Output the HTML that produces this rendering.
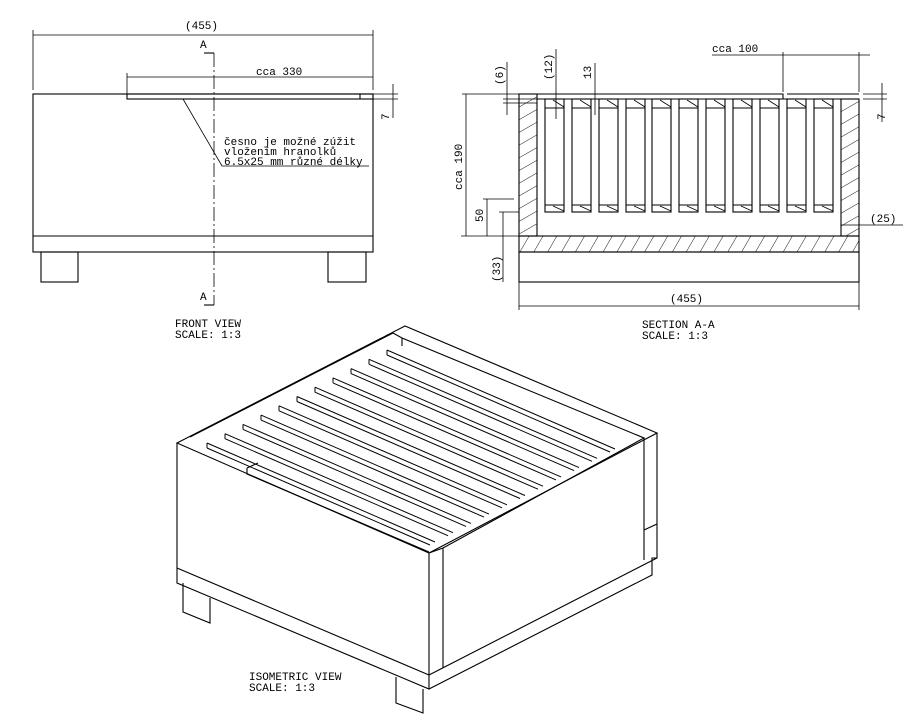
<!DOCTYPE html>
<html><head><style>
body{margin:0;background:#fff}
svg{display:block}
text{font-family:"Liberation Mono",monospace;font-size:11px;fill:#000}
</style></head><body>
<svg width="916" height="718" viewBox="0 0 916 718" xmlns="http://www.w3.org/2000/svg">
<defs>
<pattern id="h" width="11" height="11" patternUnits="userSpaceOnUse" patternTransform="rotate(60)">
<line x1="0" y1="0" x2="0" y2="11" stroke="#000" stroke-width="0.9"/>
</pattern>
<pattern id="h2" width="12" height="12" patternUnits="userSpaceOnUse" patternTransform="rotate(30)">
<line x1="0" y1="0" x2="0" y2="12" stroke="#000" stroke-width="0.9"/>
</pattern>
</defs>
<g stroke="#000" stroke-width="1.1" fill="none">
<!-- FRONT VIEW -->
<rect x="33" y="94" width="340" height="158"/>
<line x1="33" y1="236" x2="373" y2="236"/>
<rect x="41" y="252" width="37" height="30"/>
<rect x="328" y="252" width="38" height="30"/>
<rect x="127" y="94" width="246" height="5"/>
<line x1="360" y1="94" x2="360" y2="99"/>
<line x1="33" y1="35" x2="373" y2="35" stroke-width="0.8"/>
<line x1="33" y1="30" x2="33" y2="90" stroke-width="0.8"/>
<line x1="373" y1="30" x2="373" y2="90" stroke-width="0.8"/>
<line x1="127" y1="77" x2="373" y2="77" stroke-width="0.8"/>
<line x1="127" y1="73" x2="127" y2="99" stroke-width="0.8"/>
<line x1="214" y1="53" x2="214" y2="305" stroke-dasharray="14,3,2,3" stroke-width="0.8"/>
<line x1="204" y1="53" x2="214" y2="53"/><line x1="204" y1="305" x2="214" y2="305"/>
<line x1="373" y1="94" x2="398" y2="94" stroke-width="0.8"/>
<line x1="373" y1="99" x2="398" y2="99" stroke-width="0.8"/>
<line x1="393" y1="84" x2="393" y2="118" stroke-width="0.8"/>
<polyline points="183,99 222,166 369,166" stroke-width="0.8"/>
<!-- SECTION -->
<rect x="519" y="94" width="18" height="142" fill="url(#h)"/>
<rect x="841" y="99" width="18" height="137" fill="url(#h)"/>
<line x1="537" y1="99" x2="841" y2="99"/>
<polyline points="519,94 783,94 783,99"/>
<line x1="787" y1="94" x2="859" y2="94"/>
<line x1="537" y1="236" x2="841" y2="236"/>
<rect x="519" y="236" width="340" height="16" fill="url(#h2)"/>
<rect x="519" y="252" width="340" height="30"/>
<line x1="519" y1="306" x2="859" y2="306" stroke-width="0.8"/>
<line x1="519" y1="282" x2="519" y2="310" stroke-width="0.8"/>
<line x1="859" y1="282" x2="859" y2="310" stroke-width="0.8"/>
<line x1="466" y1="94" x2="466" y2="236" stroke-width="0.8"/>
<line x1="462" y1="94" x2="519" y2="94" stroke-width="0.8"/>
<line x1="461" y1="236" x2="519" y2="236" stroke-width="0.8"/>
<line x1="487" y1="199" x2="487" y2="236" stroke-width="0.8"/>
<line x1="483" y1="199" x2="514" y2="199" stroke-width="0.8"/>
<line x1="503" y1="212" x2="503" y2="282" stroke-width="0.8"/>
<line x1="499" y1="212" x2="519" y2="212" stroke-width="0.8"/>
<line x1="507" y1="62" x2="507" y2="115" stroke-width="0.8"/>
<line x1="503" y1="99" x2="537" y2="99" stroke-width="0.8"/>
<line x1="503" y1="103" x2="537" y2="103" stroke-width="0.8"/>
<line x1="556" y1="49" x2="556" y2="119" stroke-width="0.8"/>
<line x1="595" y1="63" x2="595" y2="115" stroke-width="0.8"/>
<line x1="712" y1="55" x2="870" y2="55" stroke-width="0.8"/>
<line x1="783" y1="52" x2="783" y2="92" stroke-width="0.8"/>
<line x1="859" y1="52" x2="859" y2="92" stroke-width="0.8"/>
<line x1="863" y1="94" x2="887" y2="94" stroke-width="0.8"/>
<line x1="863" y1="99" x2="887" y2="99" stroke-width="0.8"/>
<line x1="882" y1="83" x2="882" y2="122" stroke-width="0.8"/>
<line x1="841" y1="225" x2="903" y2="225" stroke-width="0.8"/>
<g id="fr">
<rect x="545" y="99" width="19" height="113"/>
<line x1="545" y1="108" x2="564" y2="108"/><line x1="545" y1="205" x2="564" y2="205"/>
<line x1="553" y1="100" x2="564" y2="107" stroke-width="0.8"/>
<line x1="553" y1="206" x2="564" y2="211" stroke-width="0.8"/>
</g>
<use href="#fr" x="27"/><use href="#fr" x="54"/><use href="#fr" x="81"/><use href="#fr" x="107"/>
<use href="#fr" x="134"/><use href="#fr" x="161"/><use href="#fr" x="188"/><use href="#fr" x="215"/>
<use href="#fr" x="242"/><use href="#fr" x="269"/>
<!-- ISOMETRIC -->
<polygon points="177,443 405,326 657,433 429,553"/>
<polyline points="190,437 393,333 402,338 644,438 443,548"/>
<line x1="402" y1="338" x2="402" y2="346"/>
<polyline points="177,443 177,583 429,689 429,553"/>
<line x1="177" y1="568" x2="429" y2="675"/>
<polyline points="443,548 443,668"/>
<polyline points="429,689 652,575 652,558 657,558 657,433"/>
<line x1="429" y1="675" x2="657" y2="558"/>
<line x1="644" y1="438" x2="644" y2="560"/>
<line x1="644" y1="530" x2="657" y2="524"/>
<line x1="429" y1="553" x2="443" y2="548"/>
<polyline points="183,583 183,612 210,623 210,598"/>
<polyline points="396,677 396,703 423,713 423,689"/>
<polyline points="247,468 247,474 429,552"/>
<line x1="247" y1="468" x2="258" y2="463"/>
<g stroke-width="1">
<g id="s">
<line x1="207" y1="443" x2="435" y2="542"/>
<line x1="207" y1="448" x2="430" y2="545"/>
<line x1="207" y1="443" x2="207" y2="448"/>
</g>
<use href="#s" transform="translate(18,-9.3)"/>
<use href="#s" transform="translate(36,-18.6)"/>
<use href="#s" transform="translate(54,-27.9)"/>
<use href="#s" transform="translate(72,-37.2)"/>
<use href="#s" transform="translate(90,-46.5)"/>
<use href="#s" transform="translate(108,-55.8)"/>
<use href="#s" transform="translate(126,-65.1)"/>
<use href="#s" transform="translate(144,-74.4)"/>
<use href="#s" transform="translate(162,-83.7)"/>
<use href="#s" transform="translate(180,-93)"/>
</g>
</g>
<g>
<text x="185" y="29">(455)</text>
<text x="200" y="48">A</text>
<text x="200" y="300">A</text>
<text x="256" y="75">cca 330</text>
<text x="224" y="145">česno je možné zúžit</text>
<text x="224" y="155">vložením hranolků</text>
<text x="224" y="165">6.5x25 mm různé délky</text>
<text transform="translate(389,120) rotate(-90)">7</text>
<text x="175" y="327">FRONT VIEW</text>
<text x="175" y="338">SCALE:  1:3</text>
<text x="642" y="328">SECTION A-A</text>
<text x="642" y="339">SCALE:  1:3</text>
<text x="670" y="302">(455)</text>
<text x="712" y="52">cca 100</text>
<text x="870" y="222">(25)</text>
<text transform="translate(885,120) rotate(-90)">7</text>
<text transform="translate(462,190) rotate(-90)">cca 190</text>
<text transform="translate(483,222) rotate(-90)">50</text>
<text transform="translate(500,282) rotate(-90)">(33)</text>
<text transform="translate(503,85) rotate(-90)">(6)</text>
<text transform="translate(552,80) rotate(-90)">(12)</text>
<text transform="translate(591,79) rotate(-90)">13</text>
<text x="249" y="680">ISOMETRIC VIEW</text>
<text x="249" y="691">SCALE:  1:3</text>
</g>
</svg>
</body></html>
